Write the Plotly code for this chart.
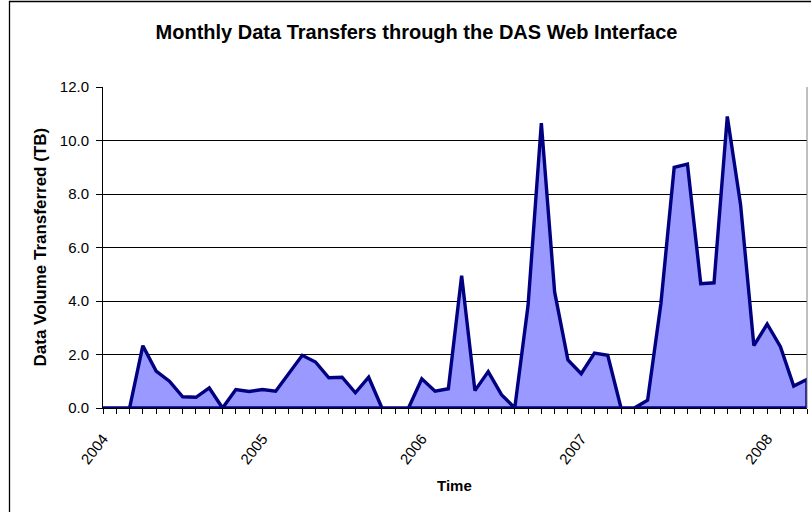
import plotly.graph_objects as go

# Monthly data volume (TB), Jan 2004 onward, one value per month
month_index = list(range(54))
volume_tb = [0, 0, 0, 2.33, 1.38, 1.0, 0.42, 0.40, 0.75, 0,
             0.69, 0.62, 0.69, 0.63, 1.32, 1.97, 1.72, 1.13, 1.15, 0.57,
             1.15, 0, 0, 0, 1.09, 0.63, 0.72, 4.95, 0.65, 1.36,
             0.5, 0, 3.84, 10.65, 4.34, 1.8, 1.28, 2.05, 1.97, 0,
             0, 0.29, 3.9, 9.0, 9.12, 4.65, 4.68, 10.9, 7.6, 2.33,
             3.14, 2.29, 0.82, 1.07]

year_labels = ["2004", "2005", "2006", "2007", "2008"]
year_label_index = [0, 12, 24, 36, 50]

y_ticks = [0, 2, 4, 6, 8, 10, 12]

FONT = "Liberation Sans, Arial, sans-serif"
FILL = "#9999FF"
LINE = "#000080"

# closed outline of the area (baseline + right edge + data line), as Excel draws it
poly_x = month_index + [month_index[-1], month_index[0]]
poly_y = volume_tb + [0, 0]

tick_text = []
for i in month_index:
    tick_text.append(year_labels[year_label_index.index(i)] if i in year_label_index else "")

fig = go.Figure()
fig.add_trace(go.Scatter(
    x=poly_x, y=poly_y, mode="lines", fill="toself", fillcolor=FILL,
    line=dict(color=LINE, width=3.4), hoverinfo="skip", showlegend=False,
))

W, H = 811, 512
L, R, T, B = 103, 4, 87, 104
pw = W - L - R
ph = H - T - B

fig.update_layout(
    width=W, height=H,
    margin=dict(l=L, r=R, t=T, b=B, pad=0, autoexpand=False),
    paper_bgcolor="white", plot_bgcolor="white",
    font=dict(family=FONT, color="black", size=15),
    title=dict(text="Monthly Data Transfers through the DAS Web Interface",
               font=dict(family=FONT, size=20, weight="bold", color="black"),
               x=416.5 / W, xref="container", xanchor="center",
               y=1 - 32 / H, yref="container", yanchor="middle"),
    showlegend=False,
)

fig.update_xaxes(
    range=[0, 53], tickmode="array", tickvals=month_index, ticktext=tick_text,
    tickangle=-52, ticks="outside", ticklen=5, tickcolor="black", tickwidth=1,
    ticklabelstandoff=10,
    showline=True, linecolor="black", linewidth=1, showgrid=False, zeroline=False,
    tickfont=dict(family=FONT, size=15, color="black"), automargin=False,
)
fig.update_yaxes(
    range=[0, 12], tickmode="array", tickvals=y_ticks, tickformat=".1f",
    ticks="outside", ticklen=6, tickcolor="black", tickwidth=1,
    ticklabelstandoff=4,
    showline=True, linecolor="black", linewidth=1,
    showgrid=True, gridcolor="black", gridwidth=1, zeroline=False,
    tickfont=dict(family=FONT, size=15, color="black"), automargin=False,
)

# plot area right border (gray) and chart frame
fig.add_shape(type="line", xref="paper", yref="paper", x0=1, x1=1, y0=0, y1=1,
              line=dict(color="#808080", width=1))
fig.add_shape(type="rect", xref="paper", yref="paper",
              x0=(9.5 - L) / pw, x1=(W + 5 - L) / pw,
              y0=(H - B - (H + 5)) / ph, y1=(H - B - 1.5) / ph,
              line=dict(color="black", width=1.3), fillcolor="rgba(0,0,0,0)", layer="below")

fig.add_annotation(text="Data Volume Transferred (TB)", xref="paper", yref="paper",
                   x=(40 - L) / pw, y=0.5, textangle=-90, showarrow=False,
                   xanchor="center", yanchor="middle",
                   font=dict(family=FONT, size=17, weight="bold", color="black"))
fig.add_annotation(text="Time", xref="paper", yref="paper",
                   x=(454 - L) / pw, y=(H - B - 485) / ph, showarrow=False,
                   xanchor="center", yanchor="middle",
                   font=dict(family=FONT, size=15, weight="bold", color="black"))

fig.write_html("out.html", config={"displayModeBar": False},
               post_script="document.body.style.margin='0';document.body.style.overflow='hidden';")
